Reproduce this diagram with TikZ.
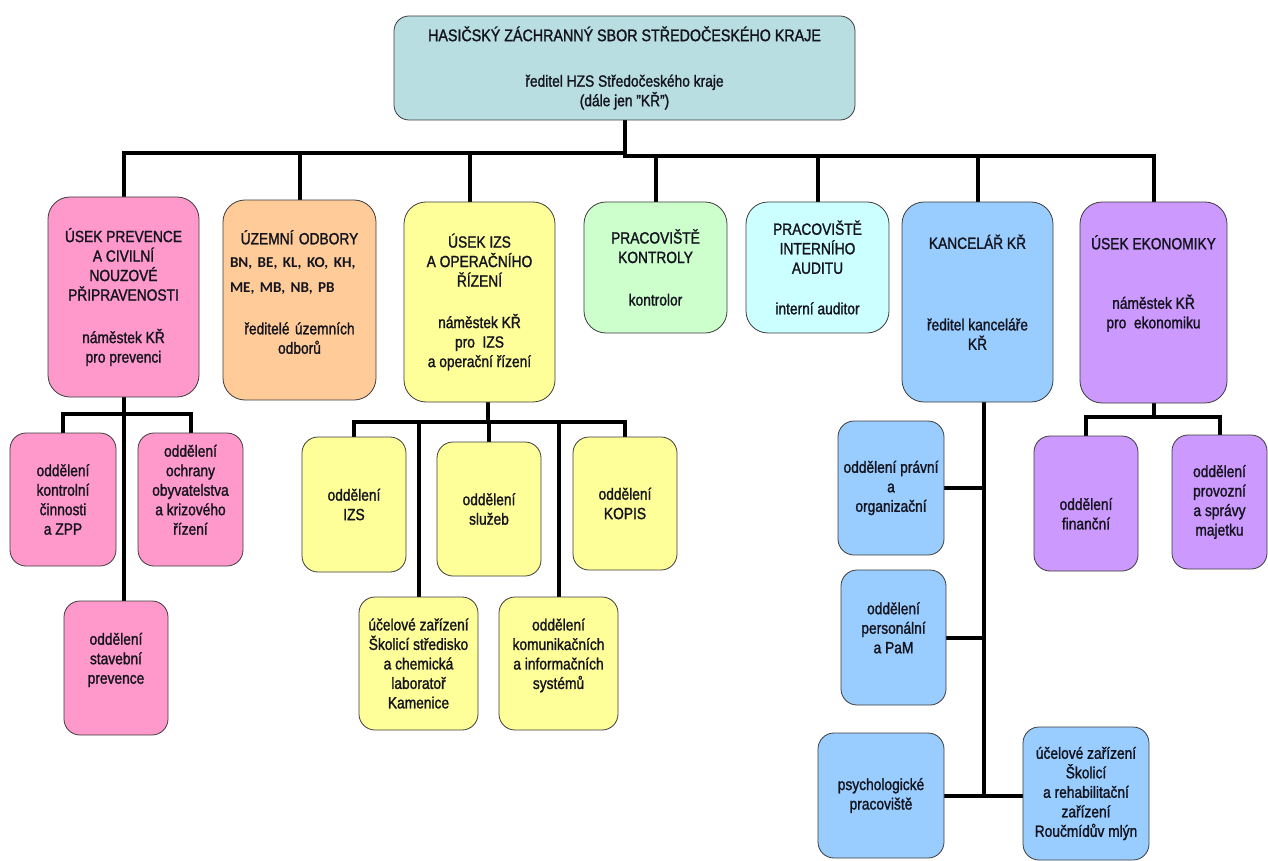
\documentclass[tikz,border=0pt]{standalone}
\usepackage{fontspec}
\setmainfont{Liberation Sans}[FakeStretch=0.85, FakeBold=1.4]
\newfontfamily\bnfont{Carlito}
\usetikzlibrary{backgrounds}
\definecolor{topc}{RGB}{184,222,225}
\definecolor{pinkc}{RGB}{255,153,204}
\definecolor{orangec}{RGB}{255,204,153}
\definecolor{yellowc}{RGB}{255,255,153}
\definecolor{greenc}{RGB}{204,255,204}
\definecolor{cyanc}{RGB}{204,255,255}
\definecolor{bluec}{RGB}{153,204,255}
\definecolor{purplec}{RGB}{204,153,255}
\definecolor{bordc}{RGB}{60,60,60}
\definecolor{txtc}{RGB}{20,20,30}
\tikzset{
  box/.style={draw=bordc, line width=0.8pt, rounded corners=16pt, align=center,
    inner sep=2pt, text=txtc, font=\fontsize{16.2}{19.5}\selectfont},
  bigbox/.style={box, rounded corners=22pt},
  conn/.style={line width=4pt, line cap=rect, draw=black},
}
\begin{document}
\begin{tikzpicture}[x=1pt,y=-1pt]
\useasboundingbox (0,0) rectangle (1268,861);

% top
\node[box, rounded corners=15pt, fill=topc, minimum width=461pt, minimum height=104pt] (top) at (624.5,68)
  {\fontsize{16.8}{19}\selectfont HASIČSKÝ ZÁCHRANNÝ SBOR STŘEDOČESKÉHO KRAJE\\[26pt]
   ředitel HZS Středočeského kraje\\(dále jen \char34 KŘ\char34)};

% first row
\node[bigbox, fill=pinkc, minimum width=151pt, minimum height=200pt] (pink) at (123.5,297)
  {ÚSEK PREVENCE\\A CIVILNÍ\\NOUZOVÉ\\PŘIPRAVENOSTI\\[23pt]náměstek KŘ\\pro prevenci};
\node[bigbox, fill=orangec, minimum width=153pt, minimum height=200pt, text width=139pt] (orng) at (299.5,300)
  {ÚZEMNÍ ODBORY\\[4pt]
   \makebox[139pt][l]{\bnfont\bfseries\fontsize{15.1}{19}\selectfont BN, BE, KL, KO, KH,}\\[5.5pt]
   \makebox[139pt][l]{\bnfont\bfseries\fontsize{15.1}{19}\selectfont ME, MB, NB, PB}\\[22pt]
   ředitelé územních\\odborů\\[-3.5pt]\mbox{}};
\node[bigbox, fill=yellowc, minimum width=151pt, minimum height=200pt] (yel) at (479.5,302)
  {ÚSEK IZS\\A OPERAČNÍHO\\ŘÍZENÍ\\[22pt]náměstek KŘ\\pro\ \ IZS\\a operační řízení};
\node[bigbox, fill=greenc, minimum width=143pt, minimum height=131pt] (grn) at (655.5,267.5)
  {PRACOVIŠTĚ\\KONTROLY\\[23pt]kontrolor};
\node[bigbox, fill=cyanc, minimum width=143pt, minimum height=131pt] (cyn) at (817.5,267.5)
  {PRACOVIŠTĚ\\INTERNÍHO\\AUDITU\\[21pt]interní auditor};
\node[bigbox, fill=bluec, minimum width=151pt, minimum height=200pt] (blu) at (977.5,302)
  {KANCELÁŘ KŘ\\[62pt]ředitel kanceláře\\KŘ\\[0pt]\mbox{}};
\node[bigbox, fill=purplec, minimum width=147pt, minimum height=201pt] (pur) at (1153.5,302.5)
  {ÚSEK EKONOMIKY\\[40pt]náměstek KŘ\\pro\ \ ekonomiku\\[22pt]\mbox{}};

% pink children
\node[box, fill=pinkc, minimum width=106pt, minimum height=133pt] (kontr) at (63,499.5)
  {oddělení\\kontrolní\\činnosti\\a ZPP};
\node[box, fill=pinkc, minimum width=105pt, minimum height=133pt] (ochr) at (190.5,499.5)
  {oddělení\\ochrany\\obyvatelstva\\a krizového\\řízení\\[0pt]\mbox{}};
\node[box, fill=pinkc, minimum width=104pt, minimum height=134pt] (stav) at (116,668)
  {oddělení\\stavební\\prevence\\[0pt]\mbox{}};

% yellow children
\node[box, fill=yellowc, minimum width=104pt, minimum height=135pt] (izs) at (354,504.5)
  {oddělení\\IZS};
\node[box, fill=yellowc, minimum width=104pt, minimum height=134pt] (sluz) at (489,509)
  {oddělení\\služeb};
\node[box, fill=yellowc, minimum width=104pt, minimum height=133pt] (kopis) at (625,503.5)
  {oddělení\\KOPIS};
\node[box, fill=yellowc, minimum width=119pt, minimum height=133pt] (ucel) at (418.5,663.5)
  {účelové zařízení\\Školicí středisko\\a chemická\\laboratoř\\Kamenice};
\node[box, fill=yellowc, minimum width=119pt, minimum height=133pt] (komu) at (558.5,663.5)
  {oddělení\\komunikačních\\a informačních\\systémů\\[0pt]\mbox{}};

% blue children
\node[box, fill=bluec, minimum width=106pt, minimum height=134pt] (prav) at (891,488)
  {oddělení právní\\a\\organizační};
\node[box, fill=bluec, minimum width=105pt, minimum height=135pt] (pers) at (893.5,637.5)
  {oddělení\\personální\\a PaM\\[0pt]\mbox{}};
\node[box, fill=bluec, minimum width=126pt, minimum height=125pt] (psy) at (881,795.5)
  {psychologické\\pracoviště};
\node[box, fill=bluec, minimum width=126pt, minimum height=133pt] (uc2) at (1086,793.5)
  {účelové zařízení\\Školicí\\a rehabilitační\\zařízení\\Roučmídův mlýn};

% purple children
\node[box, fill=purplec, minimum width=104pt, minimum height=135pt] (fin) at (1086,503.5)
  {\mbox{}\\[13pt]oddělení\\finanční};
\node[box, fill=purplec, minimum width=95pt, minimum height=134pt] (prov) at (1219.5,502)
  {oddělení\\provozní\\a správy\\majetku};

\begin{pgfonlayer}{background}
  \coordinate (busL) at (0,153);
  \coordinate (busR) at (0,156);
  \draw[conn] (top.south) -- (top.south |- busR);
  \draw[conn] (pink.north) |- (top.south |- busL);
  \draw[conn] (orng.north) -- (orng.north |- busL);
  \draw[conn] ([xshift=-9.5pt]yel.north) -- ([xshift=-9.5pt]yel.north |- busL);
  \draw[conn] (pur.north) |- (top.south |- busR);
  \draw[conn] (grn.north) -- (grn.north |- busR);
  \draw[conn] (cyn.north) -- (cyn.north |- busR);
  \draw[conn] (blu.north) -- (blu.north |- busR);

  % pink subtree
  \coordinate (pbus) at (0,414);
  \draw[conn] (pink.south) -- (pink.south |- stav.north);
  \draw[conn] (kontr.north) |- (ochr.north |- pbus) -- (ochr.north);

  % yellow subtree
  \coordinate (ybus) at (0,422);
  \draw[conn] ([xshift=8.5pt]yel.south) -- ([xshift=8.5pt]yel.south |- ybus);
  \draw[conn] (izs.north) |- (kopis.north |- ybus) -- (kopis.north);
  \draw[conn] (sluz.north) -- (sluz.north |- ybus);
  \draw[conn] (ucel.north) -- (ucel.north |- ybus);
  \draw[conn] (komu.north) -- (komu.north |- ybus);

  % blue subtree
  \draw[conn] ([xshift=6.5pt]blu.south) -- ([xshift=6.5pt]blu.south |- psy.east);
  \draw[conn] (prav.east) -- ([xshift=6.5pt]blu.south |- prav.east);
  \draw[conn] (pers.east) -- ([xshift=6.5pt]blu.south |- pers.east);
  \draw[conn] (psy.east) -- (psy.east -| uc2.west);

  % purple subtree
  \coordinate (ebus) at (0,417);
  \draw[conn] (pur.south) -- (pur.south |- ebus);
  \draw[conn] (fin.north) |- (prov.north |- ebus) -- (prov.north);
\end{pgfonlayer}
\end{tikzpicture}
\end{document}
